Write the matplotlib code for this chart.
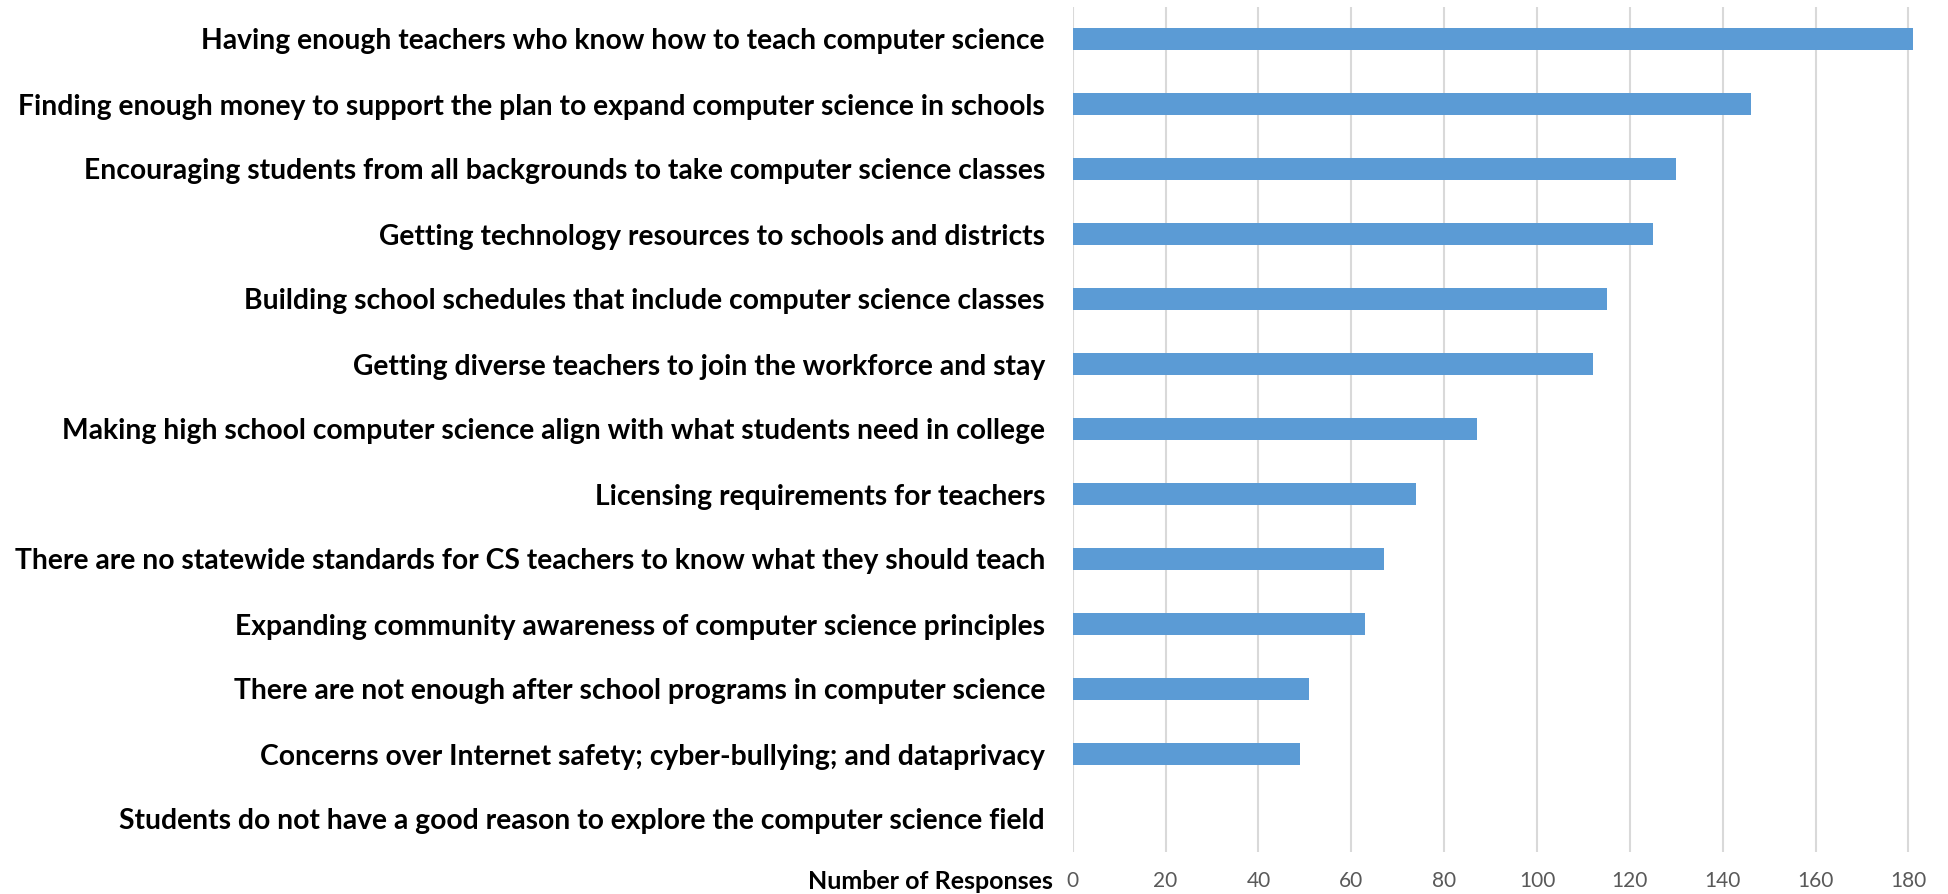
import matplotlib
matplotlib.use("Agg")
import matplotlib.pyplot as plt

categories = [
    "Having enough teachers who know how to teach computer science",
    "Finding enough money to support the plan to expand computer science in schools",
    "Encouraging students from all backgrounds to take computer science classes",
    "Getting technology resources to schools and districts",
    "Building school schedules that include computer science classes",
    "Getting diverse teachers to join the workforce and stay",
    "Making high school computer science align with what students need in college",
    "Licensing requirements for teachers",
    "There are no statewide standards for CS teachers to know what they should teach",
    "Expanding community awareness of computer science principles",
    "There are not enough after school programs in computer science",
    "Concerns over Internet safety; cyber-bullying; and dataprivacy",
    "Students do not have a good reason to explore the computer science field",
]
responses = [181, 146, 130, 125, 115, 112, 87, 74, 67, 63, 51, 49, 0]
x_ticks = [0, 20, 40, 60, 80, 100, 120, 140, 160, 180]
x_label = "Number of Responses"

W, H = 1948, 894
fig = plt.figure(figsize=(W / 100, H / 100), dpi=100)
ax = fig.add_axes([1072.7 / W, 1 - 851.5 / H, (1917.7 - 1072.7) / W, (851.5 - 6.5) / H])

pos = list(range(len(categories)))
ax.barh(pos, responses, height=0.34, color="#5B9BD5", zorder=3)
ax.set_ylim(len(categories) - 0.5, -0.5)
ax.set_xlim(0, 182)

ax.set_xticks(x_ticks)
ax.set_xticklabels([str(t) for t in x_ticks], family="Lato", fontsize=15,
                   color="#595959")
ax.set_yticks(pos)
ax.set_yticklabels(categories, family="Lato", fontsize=20.35, fontweight="bold", color="black")
ax.tick_params(axis="x", length=0, pad=14)
ax.tick_params(axis="y", length=0, pad=20)

ax.grid(axis="x", color="#D9D9D9", linewidth=1.5, zorder=0)
for s in ax.spines.values():
    s.set_visible(False)

ax.text(-0.024, -0.035, x_label, transform=ax.transAxes, ha="right", va="center",
        family="Lato", fontsize=18, fontweight="bold", color="black")

fig.savefig("out.png", dpi=100)
